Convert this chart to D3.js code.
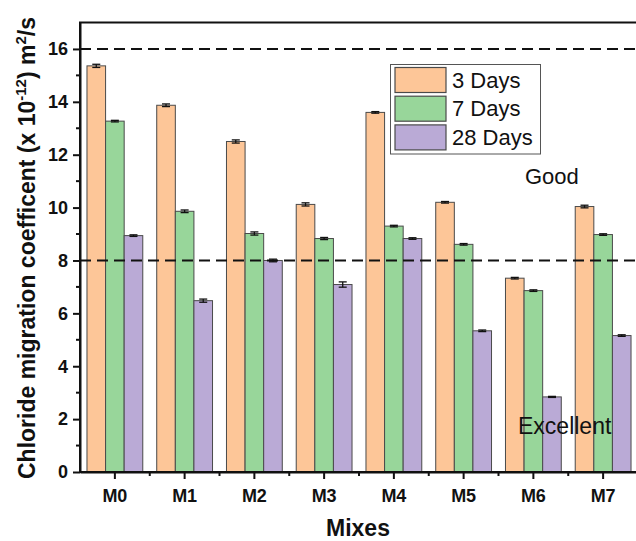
<!DOCTYPE html>
<html>
<head>
<meta charset="utf-8">
<script src="https://cdn.jsdelivr.net/npm/d3@7"></script>
<style>
  html, body { margin: 0; padding: 0; background: #fff; }
  svg { display: block; font-family: "Liberation Sans", Arial, sans-serif; }
</style>
</head>
<body>
<svg id="chart" width="636" height="541"></svg>
<script>
// Chloride migration coefficient of each mix at three curing ages
const mixes = ["M0", "M1", "M2", "M3", "M4", "M5", "M6", "M7"];
const seriesNames = ["3 Days", "7 Days", "28 Days"];
const days3  = [15.36, 13.87, 12.50, 10.12, 13.60, 10.20, 7.33, 10.04];
const days7  = [13.27,  9.86,  9.02,  8.83,  9.30,  8.61, 6.86,  8.98];
const days28 = [ 8.94,  6.48,  8.00,  7.09,  8.83,  5.34, 2.84,  5.16];
const err3   = [0.06, 0.05, 0.06, 0.06, 0.03, 0.03, 0.03, 0.05];
const err7   = [0.03, 0.05, 0.06, 0.04, 0.03, 0.03, 0.03, 0.03];
const err28  = [0.03, 0.06, 0.05, 0.10, 0.03, 0.03, 0.02, 0.03];
const colors = ["#FDC698", "#98D69A", "#BAAAD6"];
const yTicks = [0, 2, 4, 6, 8, 10, 12, 14, 16];
const thresholds = [8, 16];

const values = [days3, days7, days28];
const errors = [err3, err7, err28];

const svg = d3.select("#chart");
const plotL = 80, plotR = 638, plotT = 22.5, plotB = 472;

const x = d3.scaleBand().domain(mixes).range([plotL, plotR]).padding(0);
const groupW = x.bandwidth() * 0.8;
const xs = d3.scaleBand().domain(seriesNames).range([0, groupW]).padding(0);
const y = d3.scaleLinear().domain([0, 17]).range([plotB, plotT]);

// bars
const rows = [];
mixes.forEach((m, i) => {
  seriesNames.forEach((s, j) => {
    rows.push({ mix: m, series: s, j, v: values[j][i], e: errors[j][i] });
  });
});

const gBars = svg.append("g");
gBars.selectAll("rect").data(rows).join("rect")
  .attr("x", d => x(d.mix) + x.bandwidth() * 0.1 + xs(d.series))
  .attr("y", d => y(d.v))
  .attr("width", xs.bandwidth())
  .attr("height", d => y(0) - y(d.v))
  .attr("fill", d => colors[d.j])
  .attr("stroke", "#4a4a4a")
  .attr("stroke-width", 1);

// error bars
const gErr = svg.append("g").attr("stroke", "#111").attr("stroke-width", 1.3);
rows.forEach(d => {
  const cx = x(d.mix) + x.bandwidth() * 0.1 + xs(d.series) + xs.bandwidth() / 2;
  const y1 = y(d.v + d.e), y2 = y(d.v - d.e);
  gErr.append("line").attr("x1", cx).attr("x2", cx).attr("y1", y1).attr("y2", y2);
  gErr.append("line").attr("x1", cx - 4).attr("x2", cx + 4).attr("y1", y1).attr("y2", y1);
  gErr.append("line").attr("x1", cx - 4).attr("x2", cx + 4).attr("y1", y2).attr("y2", y2);
});

// threshold lines
svg.append("g").selectAll("line").data(thresholds).join("line")
  .attr("x1", plotL).attr("x2", plotR)
  .attr("y1", d => y(d)).attr("y2", d => y(d))
  .attr("stroke", "#111").attr("stroke-width", 2)
  .attr("stroke-dasharray", "11,6");

// frame (top edge, right edge runs off the canvas)
svg.append("rect")
  .attr("x", plotL).attr("y", plotT)
  .attr("width", plotR - plotL).attr("height", plotB - plotT)
  .attr("fill", "none").attr("stroke", "#111").attr("stroke-width", 2);

// y axis
const yAxis = d3.axisLeft(y).tickValues(yTicks).tickSize(7).tickPadding(5).tickSizeOuter(0);
const gy = svg.append("g").attr("transform", `translate(${plotL},0)`).call(yAxis);
gy.select(".domain").attr("stroke", "#111").attr("stroke-width", 2);
gy.selectAll(".tick line").attr("stroke", "#111").attr("stroke-width", 2);
gy.selectAll(".tick text")
  .attr("font-size", 18).attr("font-weight", "bold").attr("fill", "#111")
  .attr("font-family", "Liberation Sans, Arial, sans-serif");
// minor ticks on odd values
svg.append("g").selectAll("line").data(d3.range(1, 17, 2)).join("line")
  .attr("x1", plotL - 4).attr("x2", plotL)
  .attr("y1", d => y(d)).attr("y2", d => y(d))
  .attr("stroke", "#111").attr("stroke-width", 2);

// x axis
const xAxis = d3.axisBottom(x).tickSize(7).tickPadding(10).tickSizeOuter(0);
const gx = svg.append("g").attr("transform", `translate(0,${plotB})`).call(xAxis);
gx.select(".domain").attr("stroke", "#111").attr("stroke-width", 2);
gx.selectAll(".tick line").attr("stroke", "#111").attr("stroke-width", 2);
gx.selectAll(".tick text")
  .attr("font-size", 18).attr("font-weight", "bold").attr("fill", "#111")
  .attr("font-family", "Liberation Sans, Arial, sans-serif");
// minor ticks at group boundaries
svg.append("g").selectAll("line").data(mixes.slice(1)).join("line")
  .attr("x1", d => x(d)).attr("x2", d => x(d))
  .attr("y1", plotB).attr("y2", plotB + 4)
  .attr("stroke", "#111").attr("stroke-width", 2);

// axis titles
svg.append("text")
  .attr("x", (plotL + plotR) / 2 - 1).attr("y", 536)
  .attr("text-anchor", "middle")
  .attr("font-size", 23).attr("font-weight", "bold").attr("fill", "#111")
  .text("Mixes");

const yt = svg.append("text")
  .attr("transform", "translate(35,248) rotate(-90)")
  .attr("text-anchor", "middle")
  .attr("font-size", 23).attr("font-weight", "bold").attr("fill", "#111");
yt.append("tspan").text("Chloride migration coefficent (x 10");
yt.append("tspan").attr("font-size", 15).attr("dy", -9).text("-12");
yt.append("tspan").attr("dy", 9).text(") m");
yt.append("tspan").attr("font-size", 15).attr("dy", -9).text("2");
yt.append("tspan").attr("dy", 9).text("/s");

// legend
const lg = svg.append("g");
lg.append("rect")
  .attr("x", 390.5).attr("y", 64.5).attr("width", 150).attr("height", 89.5)
  .attr("fill", "#fff").attr("stroke", "#555").attr("stroke-width", 1);
seriesNames.forEach((s, j) => {
  const ry = 67.5 + j * 28.7;
  lg.append("rect")
    .attr("x", 395).attr("y", ry).attr("width", 51).attr("height", 25)
    .attr("fill", colors[j]).attr("stroke", "#4a4a4a").attr("stroke-width", 1.2);
  lg.append("text")
    .attr("x", 452).attr("y", ry + 20)
    .attr("font-size", 22).attr("fill", "#111")
    .text(s);
});

// region labels
svg.append("text").attr("x", 525).attr("y", 183.5)
  .attr("font-size", 22).attr("fill", "#111").text("Good");
svg.append("text").attr("x", 518).attr("y", 434)
  .attr("font-size", 23).attr("fill", "#111").text("Excellent");
</script>
</body>
</html>
